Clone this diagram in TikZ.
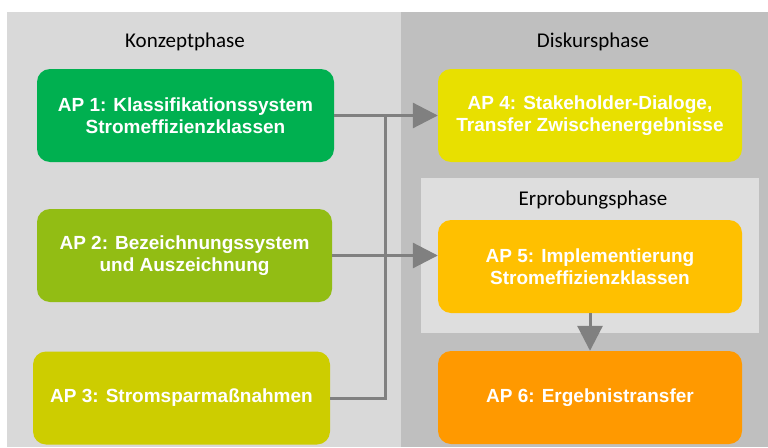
\documentclass[tikz,border=0pt]{standalone}
\usepackage{fontspec}
\setmainfont{Carlito}
\newfontfamily\boxfont{Liberation Sans}
\usetikzlibrary{arrows.meta}

\definecolor{konzeptgray}{HTML}{D9D9D9}
\definecolor{diskursgray}{HTML}{BFBFBF}
\definecolor{erprobunggray}{HTML}{DEDEDE}
\definecolor{linegray}{HTML}{808080}
\definecolor{apgreen}{HTML}{00B050}
\definecolor{apolive}{HTML}{92BD14}
\definecolor{aplime}{HTML}{CDCD00}
\definecolor{apyellow}{HTML}{E8E000}
\definecolor{apamber}{HTML}{FFC000}
\definecolor{aporange}{HTML}{FF9900}

\tikzstyle{phase} = [inner sep=0pt, anchor=base, font=\fontsize{21}{25}\selectfont]
\tikzstyle{apbox} = [rounded corners=13pt, minimum height=93pt, inner sep=0pt, text=white, align=center, font=\boxfont\bfseries\fontsize{19}{22}\selectfont]
\tikzstyle{link} = [draw=linegray, line width=3pt]
\tikzstyle{arrowlink} = [link, -{Triangle[length=25pt,width=25pt]}]

\begin{document}
\begin{tikzpicture}[x=1pt,y=-1pt]
      \useasboundingbox (0,0) rectangle (768,447);
      %phases
      \fill[konzeptgray] (7,12) rectangle (401,447);
      \fill[diskursgray] (401,12) rectangle (768,447);
      \fill[erprobunggray] (421,178) rectangle (759,333);
      \node[phase] (konzept) at (185,47) {Konzeptphase};
      \node[phase] (diskurs) at (593,47) {Diskursphase};
      \node[phase] (erprobung) at (593,205) {Erprobungsphase};
      %nodes
      \foreach \nodename/\x/\y/\w/\boxcolor/\boxtext in {
        ap1/185.5/115.5/297/apgreen/{AP 1: Klassifikationssystem\\Stromeffizienzklassen},
        ap2/184.5/255.5/295/apolive/{AP 2: Bezeichnungssystem\\und Auszeichnung},
        ap3/181.5/398/297/aplime/{AP 3: Stromsparmaßnahmen},
        ap4/590/115.5/304/apyellow/{AP 4: Stakeholder-Dialoge,\\Transfer Zwischenergebnisse},
        ap5/590/266.5/304/apamber/{AP 5: Implementierung\\Stromeffizienzklassen},
        ap6/590/397.5/304/aporange/{AP 6: Ergebnistransfer}}
      {
        \node[apbox, minimum width=\w pt, fill=\boxcolor] (\nodename) at (\x,\y) {\boxtext};
      };
      \coordinate (bus) at (385,0);
      %edges
      \draw[link] (ap3.east) -- (ap3.east -| bus) -- (ap1.east -| bus);
      \draw[arrowlink] (ap1.east) -- (ap4.west);
      \draw[arrowlink] (ap2.east) -- (ap2.east -| ap5.west);
      \draw[arrowlink] (ap5.south) -- (ap6.north);
    \end{tikzpicture}
\end{document}
